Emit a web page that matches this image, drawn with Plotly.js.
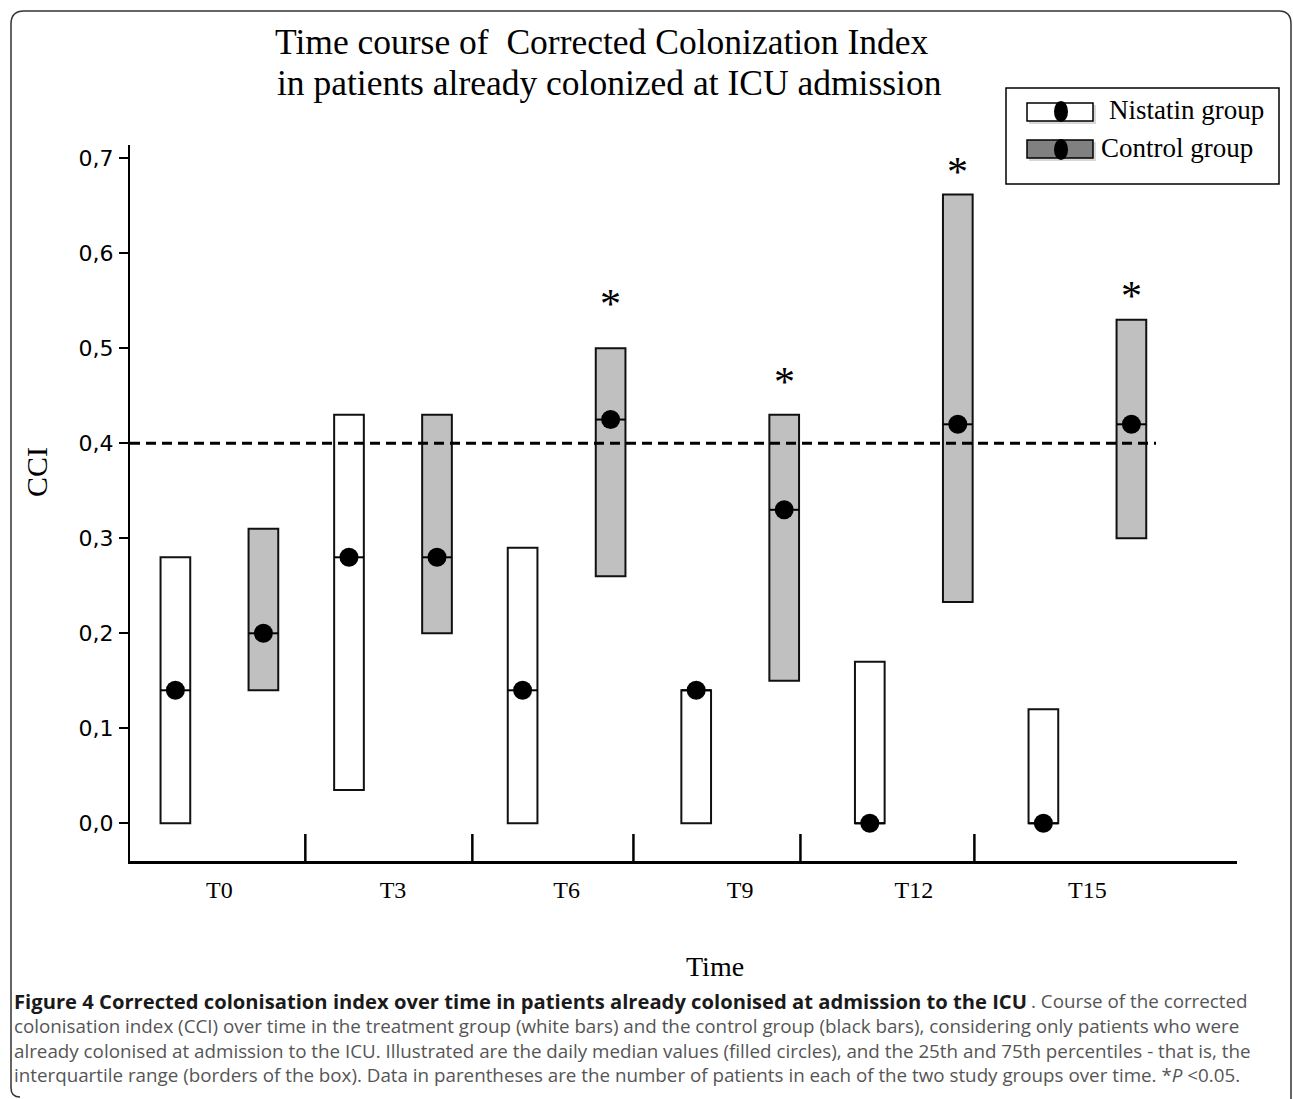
<!DOCTYPE html>
<html>
<head>
<meta charset="utf-8">
<script src="https://cdn.plot.ly/plotly-3.0.1.min.js"></script>
<style>
  html, body { margin: 0; padding: 0; background: #fff; }
  #chart { width: 1293px; height: 1099px; }
</style>
</head>
<body>
<div id="chart"></div>
<script>
// ---- Data ----
const timePoints = ['T0', 'T3', 'T6', 'T9', 'T12', 'T15'];
// Nistatin group (white boxes): 25th percentile, median, 75th percentile
const nistatinQ1     = [0.00, 0.035, 0.00, 0.00, 0.00, 0.00];
const nistatinMedian = [0.14, 0.28, 0.14, 0.14, 0.00, 0.00];
const nistatinQ3     = [0.28, 0.43, 0.29, 0.14, 0.17, 0.12];
// Control group (grey boxes)
const controlQ1      = [0.14, 0.20, 0.26, 0.15, 0.233, 0.30];
const controlMedian  = [0.20, 0.28, 0.425, 0.33, 0.42, 0.42];
const controlQ3      = [0.31, 0.43, 0.50, 0.43, 0.662, 0.53];
// Significance (*P<0.05) markers for the control group
const significant    = [false, false, true, true, true, true];
const sigMarkLevel   = [null, null, 0.551, 0.469, 0.690, 0.559];
const referenceLevel = 0.4;
const yTicks = [0, 0.1, 0.2, 0.3, 0.4, 0.5, 0.6, 0.7];
const groupDividers = [0.495, 1.457, 2.385, 3.347, 4.349];
const titleLines = ['Time course of  Corrected Colonization Index', 'in patients already colonized at ICU admission'];

// ---- Layout helpers (pixel -> paper) ----
const PL = 130, PR = 1237, PT = 145, PB = 861;
const px = x => (x - PL) / (PR - PL);
const py = y => (PB - y) / (PB - PT);

const OFF = 0.2535, BW = 0.171;
const idx = timePoints.map((_, i) => i);

function boxTrace(q1, q3, off, fill) {
  return {
    type: 'bar',
    x: idx.map(i => i + off),
    base: q1,
    y: q3.map((v, i) => v - q1[i]),
    width: BW,
    marker: { color: fill, line: { color: '#111', width: 2 } },
    hoverinfo: 'skip'
  };
}
function medianLine(med, off) {
  const xs = [], ys = [];
  med.forEach((m, i) => {
    xs.push(i + off - BW / 2, i + off + BW / 2, null);
    ys.push(m, m, null);
  });
  return { type: 'scatter', mode: 'lines', x: xs, y: ys,
           line: { color: '#000', width: 2 }, hoverinfo: 'skip' };
}
function medianDots(med, off) {
  return { type: 'scatter', mode: 'markers', x: idx.map(i => i + off), y: med,
           marker: { color: '#000', size: 19 }, hoverinfo: 'skip' };
}

const data = [
  boxTrace(nistatinQ1, nistatinQ3, -OFF, '#ffffff'),
  boxTrace(controlQ1, controlQ3, OFF, '#c0c0c0'),
  medianLine(nistatinMedian, -OFF),
  medianLine(controlMedian, OFF),
  medianDots(nistatinMedian, -OFF),
  medianDots(controlMedian, OFF)
];

const xRange = [(PL - 219.4) / 173.6, (PR - 219.4) / 173.6];
const yRange = [(823.3 - PB) / 950, (823.3 - PT) / 950];

const shapes = [];
// reference dashed line
shapes.push({ type: 'line', xref: 'x', yref: 'y', x0: xRange[0], x1: (1156 - 219.4) / 173.6,
  y0: referenceLevel, y1: referenceLevel, line: { color: '#000', width: 3, dash: '10px,6px' } });
// group dividers on x axis
groupDividers.forEach(d => shapes.push({ type: 'line', xref: 'x', yref: 'paper', x0: d, x1: d,
  y0: 0, y1: py(834), line: { color: '#000', width: 2.5 } }));
// legend box
shapes.push({ type: 'rect', xref: 'paper', yref: 'paper', x0: px(1006), x1: px(1279), y0: py(184), y1: py(88),
  line: { color: '#000', width: 1.5 }, fillcolor: '#fff', layer: 'above' });
// legend swatch shadows
shapes.push({ type: 'rect', xref: 'paper', yref: 'paper', x0: px(1029), x1: px(1096), y0: py(124), y1: py(105),
  line: { width: 0 }, fillcolor: '#d8d8d8' });
shapes.push({ type: 'rect', xref: 'paper', yref: 'paper', x0: px(1029), x1: px(1096), y0: py(161), y1: py(142),
  line: { width: 0 }, fillcolor: '#d8d8d8' });
// legend swatches
shapes.push({ type: 'rect', xref: 'paper', yref: 'paper', x0: px(1027), x1: px(1093), y0: py(121), y1: py(103),
  line: { color: '#000', width: 1.5 }, fillcolor: '#fff' });
shapes.push({ type: 'rect', xref: 'paper', yref: 'paper', x0: px(1027), x1: px(1093), y0: py(158), y1: py(140),
  line: { color: '#000', width: 1.5 }, fillcolor: '#808080' });
shapes.push({ type: 'circle', xref: 'paper', yref: 'paper', x0: px(1054), x1: px(1068), y0: py(122), y1: py(101),
  line: { width: 0 }, fillcolor: '#000' });
shapes.push({ type: 'circle', xref: 'paper', yref: 'paper', x0: px(1054), x1: px(1068), y0: py(160), y1: py(139),
  line: { width: 0 }, fillcolor: '#000' });
// rounded outer frame
const fp = (x, y) => px(x) + ',' + py(y);
shapes.push({ type: 'path', xref: 'paper', yref: 'paper',
  path: 'M' + fp(20, 1097) + ' Q' + fp(11, 1097) + ' ' + fp(11, 1088) + ' L' + fp(11, 24) +
        ' Q' + fp(11, 11) + ' ' + fp(24, 11) + ' L' + fp(1279, 11) + ' Q' + fp(1291, 11) + ' ' + fp(1291, 24) +
        ' L' + fp(1291, 1099),
  line: { color: '#333', width: 1.5 } });

const serif = 'Liberation Serif, Times New Roman, serif';
const annotations = [];
// second title line
annotations.push({ xref: 'paper', yref: 'paper', x: px(275), y: py(83), xanchor: 'left', yanchor: 'middle',
  text: titleLines[1], showarrow: false, font: { family: serif, size: 35.5, color: '#000' } });
// significance asterisks
significant.forEach((s, i) => {
  if (!s) return;
  annotations.push({ xref: 'x', yref: 'y', x: i + OFF, y: sigMarkLevel[i], text: '*', showarrow: false,
    xanchor: 'center', yanchor: 'middle', yshift: -4, font: { family: serif, size: 42, color: '#000' } });
});
// legend text
annotations.push({ xref: 'paper', yref: 'paper', x: px(1107), y: py(110), xanchor: 'left', yanchor: 'middle',
  text: 'Nistatin group', showarrow: false, font: { family: serif, size: 27, color: '#000' } });
annotations.push({ xref: 'paper', yref: 'paper', x: px(1099), y: py(148), xanchor: 'left', yanchor: 'middle',
  text: 'Control group', showarrow: false, font: { family: serif, size: 27, color: '#000' } });
// axis titles
annotations.push({ xref: 'paper', yref: 'paper', x: px(37), y: py(472), xanchor: 'center', yanchor: 'middle',
  text: 'CCI', textangle: -90, showarrow: false, font: { family: serif, size: 30, color: '#000' } });
annotations.push({ xref: 'paper', yref: 'paper', x: px(715), y: py(966), xanchor: 'center', yanchor: 'middle',
  text: 'Time', showarrow: false, font: { family: serif, size: 28, color: '#000' } });
// caption
const capFamily = 'Open Sans, Noto Sans, sans-serif';
const capFont = { family: capFamily, size: 18.8, color: '#555' };
const captionHead = 'Figure 4 Corrected colonisation index over time in patients already colonised at admission to the ICU';
const captionLines = [
  '. Course of the corrected',
  'colonisation index (CCI) over time in the treatment group (white bars) and the control group (black bars), considering only patients who were',
  'already colonised at admission to the ICU. Illustrated are the daily median values (filled circles), and the 25th and 75th percentiles - that is, the',
  'interquartile range (borders of the box). Data in parentheses are the number of patients in each of the two study groups over time. *<i>P</i> &lt;0.05.'
];
const capY = [1001, 1026, 1050.5, 1075];
annotations.push({ xref: 'paper', yref: 'paper', x: px(12), y: py(capY[0]), xanchor: 'left', yanchor: 'middle',
  text: '<b>' + captionHead + '</b>', showarrow: false, font: { family: capFamily, size: 20.2, color: '#1a1a1a' } });
annotations.push({ xref: 'paper', yref: 'paper', x: px(1250), y: py(capY[0]), xanchor: 'right', yanchor: 'middle',
  text: captionLines[0], showarrow: false, font: capFont });
captionLines.slice(1).forEach((t, i) => annotations.push({ xref: 'paper', yref: 'paper', x: px(12), y: py(capY[i + 1]),
  xanchor: 'left', yanchor: 'middle', text: t, showarrow: false, font: capFont }));

const layout = {
  width: 1293, height: 1099,
  margin: { l: PL, r: 1293 - PR, t: PT, b: 1099 - PB, pad: 0 },
  paper_bgcolor: '#fff', plot_bgcolor: '#fff',
  showlegend: false,
  barmode: 'overlay',
  separators: ',.',
  title: {
    text: titleLines[0],
    font: { family: serif, size: 35.5, color: '#000' },
    xref: 'container', yref: 'container', x: 275 / 1293, xanchor: 'left', y: 1 - 42 / 1099, yanchor: 'middle'
  },
  xaxis: {
    range: xRange, tickvals: idx, ticktext: timePoints, ticks: '', showgrid: false, zeroline: false,
    showline: true, linecolor: '#000', linewidth: 2.5,
    tickfont: { family: serif, size: 24, color: '#000' }, ticklabelstandoff: 6, fixedrange: true
  },
  yaxis: {
    range: yRange, tickvals: yTicks, tickformat: '.1f', ticks: 'outside', ticklen: 9, tickwidth: 2, tickcolor: '#000',
    showgrid: false, zeroline: false, showline: true, linecolor: '#000', linewidth: 2,
    tickfont: { family: 'DejaVu Sans, Verdana, sans-serif', size: 22, color: '#000' }, ticklabelstandoff: 1,
    fixedrange: true
  },
  shapes: shapes,
  annotations: annotations
};

Plotly.newPlot('chart', data, layout, { displayModeBar: false, staticPlot: true });
</script>
</body>
</html>
